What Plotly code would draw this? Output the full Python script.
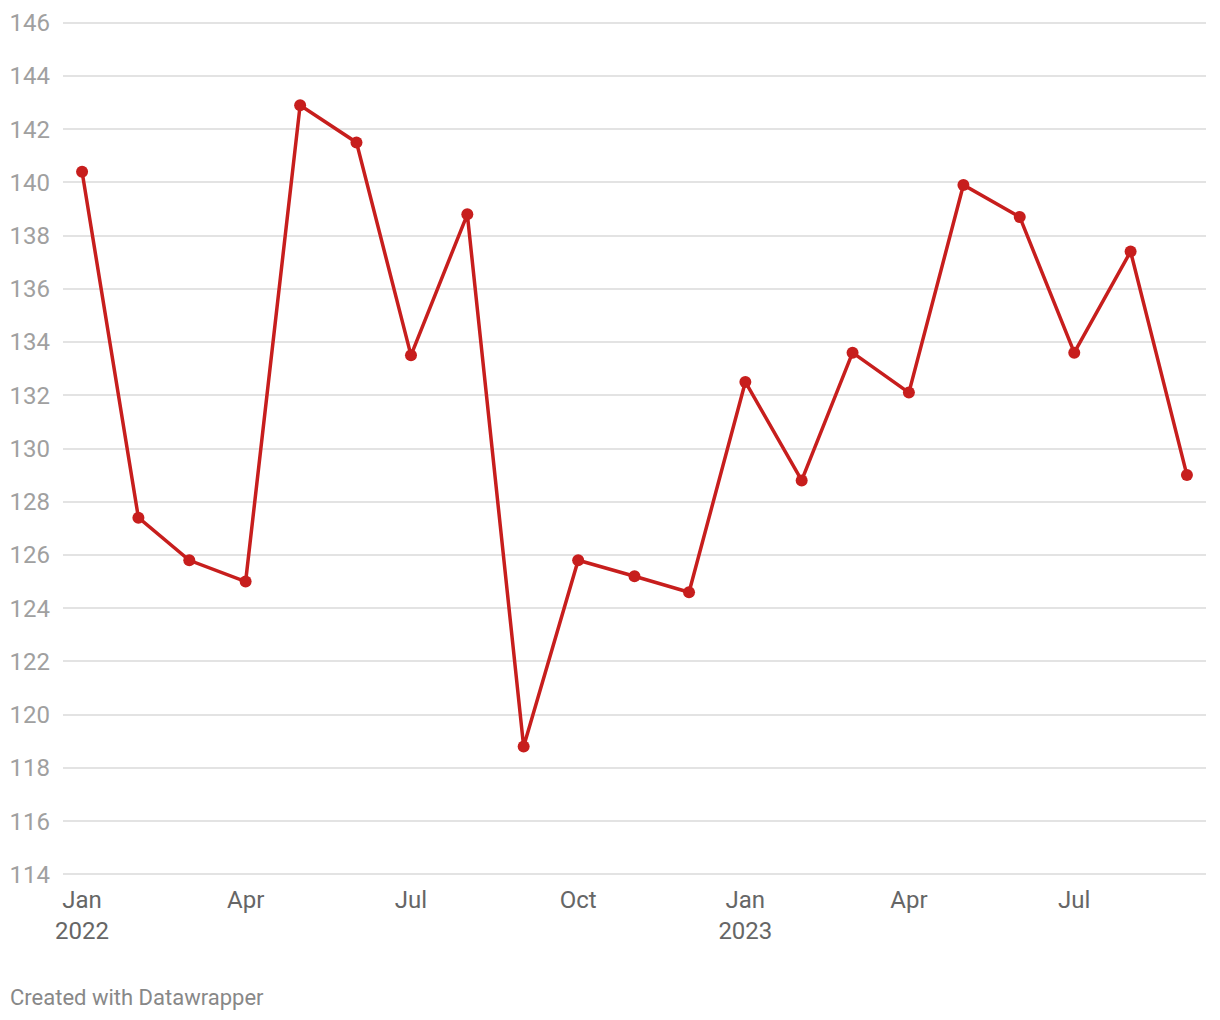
import plotly.graph_objects as go

dates = ["2022-01-01", "2022-02-01", "2022-03-01", "2022-04-01", "2022-05-01", "2022-06-01",
         "2022-07-01", "2022-08-01", "2022-09-01", "2022-10-01", "2022-11-01", "2022-12-01",
         "2023-01-01", "2023-02-01", "2023-03-01", "2023-04-01", "2023-05-01", "2023-06-01",
         "2023-07-01", "2023-08-01", "2023-09-01"]
values = [140.4, 127.4, 125.8, 125.0, 142.9, 141.5, 133.5, 138.8, 118.8, 125.8, 125.2, 124.6,
          132.5, 128.8, 133.6, 132.1, 139.9, 138.7, 133.6, 137.4, 129.0]

x_tick_vals = ["2022-01-01", "2022-04-01", "2022-07-01", "2022-10-01",
               "2023-01-01", "2023-04-01", "2023-07-01"]
x_tick_text = ["Jan<br>2022", "Apr", "Jul", "Oct", "Jan<br>2023", "Apr", "Jul"]
y_tick_vals = list(range(114, 147, 2))

fig = go.Figure()
fig.add_trace(go.Scatter(
    x=dates, y=values, mode="lines+markers",
    line=dict(color="#c71e1d", width=3.5),
    marker=dict(color="#c71e1d", size=12),
    hoverinfo="x+y",
))

fig.update_layout(
    width=1220, height=1020,
    margin=dict(l=55, r=22, t=12, b=151),
    paper_bgcolor="white", plot_bgcolor="white",
    font=dict(family="Roboto", size=24, color="#999999"),
    showlegend=False,
    xaxis=dict(
        type="date", automargin=False,
        range=["2021-12-21 12:00", "2023-09-11 12:00"],
        tickvals=x_tick_vals, ticktext=x_tick_text,
        showgrid=False, zeroline=False, showline=False,
        ticks="", tickfont=dict(size=24, color="#666666"),
        ticklabelstandoff=6,
    ),
    yaxis=dict(
        automargin=False,
        range=[113.9, 146.1],
        tickvals=y_tick_vals,
        showgrid=True, gridcolor="#e3e3e3", gridwidth=1.5,
        zeroline=False, showline=False, ticks="",
        tickfont=dict(size=24, color="#a0a0a0"),
        ticklabelstandoff=12,
    ),
    annotations=[dict(
        text="Created with Datawrapper", xref="paper", yref="paper",
        x=0, xshift=-55, y=0, yshift=-120, xanchor="left", yanchor="middle",
        showarrow=False, font=dict(size=22, color="#888888"),
    )],
)

fig.write_html("out.html")
